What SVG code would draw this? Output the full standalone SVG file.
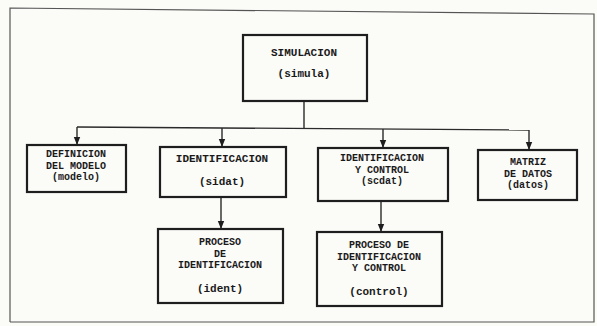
<svg xmlns="http://www.w3.org/2000/svg" width="597" height="326" viewBox="0 0 597 326">
<defs>
<style>
.box{fill:#fbfbf8;stroke:#1e1e1e;stroke-width:2.2}
.ln{fill:none;stroke:#2a2a2a;stroke-width:1.4}
.t{font-family:"Liberation Mono","DejaVu Sans Mono",monospace;font-weight:bold;font-size:11px;fill:#1a1a1a;text-anchor:middle}
.s{font-size:10px}
.frame{fill:none;stroke:#555;stroke-width:1.2}
</style>
<marker id="ah" viewBox="0 0 10 10" refX="10" refY="5" markerWidth="8" markerHeight="8" orient="auto" markerUnits="userSpaceOnUse">
<path d="M0,1 L10,5 L0,9 z" fill="#1e1e1e"/>
</marker>
</defs>
<rect width="597" height="326" fill="#fbfbf8"/>
<polyline class="frame" points="10,322 10,8 594,14 594,322 10,322"/>
<g id="connectors">
<line class="ln" x1="304" y1="101" x2="304" y2="128"/>
<line class="ln" x1="77" y1="127" x2="529" y2="130"/>
<line class="ln" x1="77" y1="127" x2="77" y2="145" marker-end="url(#ah)"/>
<line class="ln" x1="222" y1="128" x2="222" y2="147" marker-end="url(#ah)"/>
<line class="ln" x1="383" y1="129" x2="383" y2="148" marker-end="url(#ah)"/>
<line class="ln" x1="529" y1="130" x2="529" y2="150" marker-end="url(#ah)"/>
<line class="ln" x1="221" y1="197" x2="221" y2="229" marker-end="url(#ah)"/>
<line class="ln" x1="381" y1="201" x2="381" y2="232" marker-end="url(#ah)"/>
</g>
<g id="simula">
<rect class="box" x="243" y="35" width="124" height="66"/>
<text class="t" x="304" y="56">SIMULACION</text>
<text class="t" x="304" y="77">(simula)</text>
</g>
<g id="modelo">
<rect class="box" x="27" y="145" width="99" height="47"/>
<text class="t s" x="76" y="157">DEFINICION</text>
<text class="t s" x="76" y="168.5">DEL MODELO</text>
<text class="t s" x="76" y="180">(modelo)</text>
</g>
<g id="sidat">
<rect class="box" x="160" y="147" width="126" height="50"/>
<text class="t" x="222" y="162">IDENTIFICACION</text>
<text class="t" x="222" y="185">(sidat)</text>
</g>
<g id="scdat">
<rect class="box" x="318" y="148" width="130" height="53"/>
<text class="t s" x="382" y="161">IDENTIFICACION</text>
<text class="t s" x="382" y="172.5">Y CONTROL</text>
<text class="t s" x="382" y="184">(scdat)</text>
</g>
<g id="datos">
<rect class="box" x="478" y="150" width="99" height="50"/>
<text class="t s" x="528" y="165">MATRIZ</text>
<text class="t s" x="528" y="176.5">DE DATOS</text>
<text class="t s" x="528" y="188">(datos)</text>
</g>
<g id="ident">
<rect class="box" x="158" y="229" width="125" height="74"/>
<text class="t s" x="220" y="245">PROCESO</text>
<text class="t s" x="220" y="256.5">DE</text>
<text class="t s" x="220" y="268">IDENTIFICACION</text>
<text class="t" x="220" y="292">(ident)</text>
</g>
<g id="control">
<rect class="box" x="317" y="232" width="125" height="74"/>
<text class="t s" x="379" y="248">PROCESO DE</text>
<text class="t s" x="379" y="259.5">IDENTIFICACION</text>
<text class="t s" x="379" y="271">Y CONTROL</text>
<text class="t" x="379" y="295">(control)</text>
</g>
</svg>
